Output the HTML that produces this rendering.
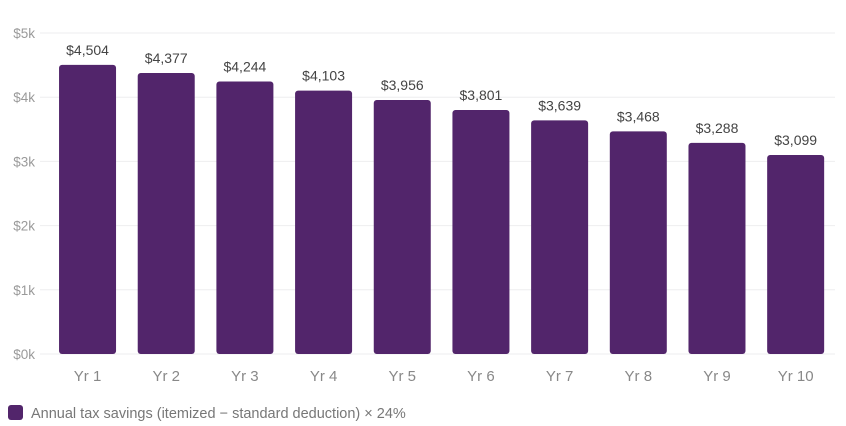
<!DOCTYPE html>
<html><head><meta charset="utf-8"><style>
html,body{margin:0;padding:0;background:#fff;width:846px;height:426px;overflow:hidden;font-family:"Liberation Sans",sans-serif}
</style></head><body>
<svg id="chart" width="846" height="426" xmlns="http://www.w3.org/2000/svg">
<g id="grid"></g>
<g id="yaxis"></g>
<g id="bars"></g>
<g id="xaxis"></g>
<g>
<rect x="8" y="405" width="15" height="15" rx="3" fill="#52256b"/>
<text x="31" y="418" font-size="14.5" fill="#777">Annual tax savings (itemized − standard deduction) × 24%</text>
</g>
</svg>
<script>
const categories=["Yr 1","Yr 2","Yr 3","Yr 4","Yr 5","Yr 6","Yr 7","Yr 8","Yr 9","Yr 10"];
const values=[4504,4377,4244,4103,3956,3801,3639,3468,3288,3099];
const valueLabels=["$4,504","$4,377","$4,244","$4,103","$3,956","$3,801","$3,639","$3,468","$3,288","$3,099"];
const yTicks=[0,1000,2000,3000,4000,5000];
const yTickLabels=["$0k","$1k","$2k","$3k","$4k","$5k"];
const NS="http://www.w3.org/2000/svg";
const L=48.2,R=835,T=33,B=354,yMax=5000;
const band=(R-L)/categories.length,bw=57;
const y=v=>B-(v/yMax)*(B-T);
const x=i=>L+band*i+band/2;
function mk(t,a,p){const e=document.createElementNS(NS,t);for(const k in a)e.setAttribute(k,a[k]);p.appendChild(e);return e;}
const g=document.getElementById('grid'),ya=document.getElementById('yaxis'),gb=document.getElementById('bars'),xa=document.getElementById('xaxis');
yTicks.forEach((t,i)=>{
 const l=mk('line',{x1:40,x2:R,y1:y(t),y2:y(t),stroke:'#eeeeef','stroke-width':1},g);
 
 
 const tx=mk('text',{x:35,y:y(t)+5,'text-anchor':'end','font-size':13.5,fill:'#9a9a9a'},ya);
 tx.textContent=yTickLabels[i];
 
 
});
values.forEach((v,i)=>{
 const r=mk('rect',{x:x(i)-bw/2,y:y(v),width:bw,height:B-y(v),rx:3,fill:'#52256b'},gb);
 
 
 const t=mk('text',{x:x(i),y:y(v)-10,'text-anchor':'middle','font-size':14,fill:'#444'},gb);
 t.textContent=valueLabels[i];
 
 
 const c=mk('text',{x:x(i),y:381,'text-anchor':'middle','font-size':15,fill:'#888'},xa);
 c.textContent=categories[i];
 
 
});
</script>
</body></html>
